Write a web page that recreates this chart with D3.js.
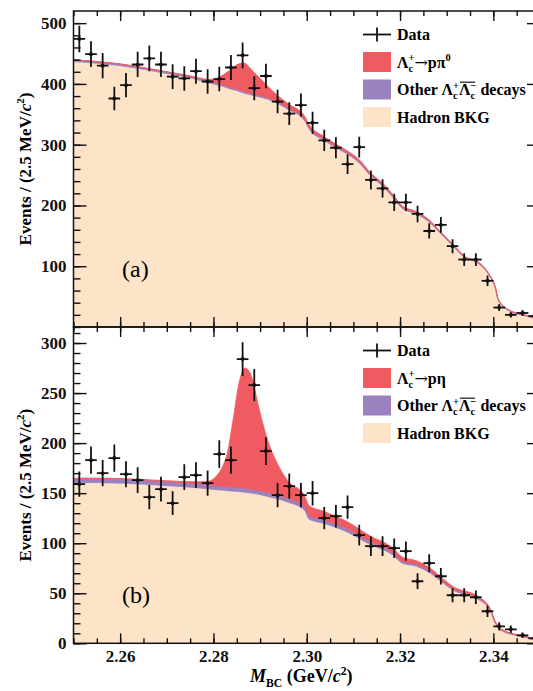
<!DOCTYPE html>
<html>
<head>
<meta charset="utf-8">
<script src="https://cdn.jsdelivr.net/npm/d3@7"></script>
<style>
  body { margin: 0; background: #fff; }
  svg text { font-family: "Liberation Serif", "Times New Roman", serif; white-space: pre; }
</style>
</head>
<body>
<div id="chart"></div>
<script>
// bin centres of M_BC (2.5 MeV bins)
var massBins = [2.25125, 2.25375, 2.25625, 2.25875, 2.26125, 2.26375, 2.26625, 2.26875, 2.27125, 2.27375,
                2.27625, 2.27875, 2.28125, 2.28375, 2.28625, 2.28875, 2.29125, 2.29375, 2.29625, 2.29875,
                2.30125, 2.30375, 2.30625, 2.30875, 2.31125, 2.31375, 2.31625, 2.31875, 2.32125, 2.32375,
                2.32625, 2.32875, 2.33125, 2.33375, 2.33625, 2.33875, 2.34125, 2.34375, 2.34625, 2.34875];

// (a) Lc -> p pi0 data
var countsA = [474, 449, 430, 376, 398, 432, 442, 432, 412, 409,
               421, 404, 408, 427, 447, 393, 413, 371, 351, 365,
               336, 307, 295, 268, 296, 242, 228, 205, 205, 186,
               158, 168, 133, 111, 111, 76, 32, 20, 23, 18];

// (b) Lc -> p eta data
var countsB = [159, 183, 170, 185, 169, 163, 146, 154, 140, 166,
               168, 160, 189, 183, 284, 258, 192, 148, 157, 148,
               150, 125, 127, 136, 108, 97, 97, 95, 92, 62,
               80, 67, 48, 48, 46, 32, 17, 14, 8, 5];

// fit components (a)
var curveXA = [2.250, 2.255, 2.260, 2.265, 2.270, 2.275, 2.2775, 2.279, 2.2805, 2.282,
               2.2835, 2.285, 2.2865, 2.2885, 2.2915, 2.2935, 2.296, 2.2995, 2.3005, 2.3035,
               2.3065, 2.309, 2.3115, 2.3135, 2.3165, 2.3185, 2.3205, 2.3235, 2.3265, 2.3285,
               2.3315, 2.334, 2.3365, 2.339, 2.3405, 2.341, 2.3435, 2.346, 2.350];
var bkgA = [437, 434, 430, 424, 417, 410, 405, 402, 399, 396,
            392, 389, 385, 381, 375, 369, 358, 340, 326, 308,
            294, 283, 268, 250, 230, 213, 195, 186, 171, 155,
            132, 113, 106, 86, 62, 45, 26, 20, 12];
var otherA = [2.5, 2.5, 2.5, 2.5, 2.5, 2.5, 2.5, 2.5, 2.5, 2.5,
              2.5, 2.5, 2.5, 2.5, 2.5, 2.5, 2.5, 2.5, 2.5, 2.5,
              2.5, 2.5, 2.5, 2.5, 2.5, 2.5, 2, 2, 2, 2,
              1.5, 1.5, 1.5, 1, 1, 1, 1, 1, 1];
var sigA = [0.5, 0.5, 0.5, 0.5, 0.6, 0.8, 1.5, 3, 7, 16,
            28, 40, 47, 37, 20, 11, 7, 5, 4.5, 4,
            3.5, 3, 3, 2.5, 2.5, 2, 2, 2, 1.5, 1.5,
            1.5, 1, 1, 1, 1, 1, 0.5, 0.5, 0.5];

// fit components (b)
var curveXB = [2.250, 2.255, 2.260, 2.265, 2.270, 2.275, 2.2785, 2.2805, 2.282, 2.283,
               2.2843, 2.2855, 2.2868, 2.2882, 2.2896, 2.2914, 2.2936, 2.296, 2.2995, 2.3005,
               2.3035, 2.3085, 2.3135, 2.3185, 2.3205, 2.3235, 2.3265, 2.3293, 2.3314, 2.3364,
               2.3393, 2.3404, 2.342, 2.3464, 2.350];
var bkgB = [160.5, 160.5, 160, 159, 157.5, 156, 154.5, 153.5, 153, 152.5,
            152, 151.5, 151, 150, 149, 147, 144.5, 141, 133, 124,
            120, 111.5, 99, 88, 80, 77, 70, 60, 53, 45,
            33, 20, 12, 6.5, 2.5];
var otherB = [4, 4, 4, 4, 4, 4, 4, 4, 4, 4,
              4, 4, 4, 4, 4, 4, 4, 4, 4, 3.5,
              3.5, 3.5, 3, 2.5, 2, 2, 2, 1.5, 1.5, 1,
              1, 1, 0.8, 0.5, 0.5];
var sigB = [0.5, 0.5, 0.6, 0.7, 0.9, 1.5, 3, 9, 20, 34,
            70, 105, 120, 112, 85, 55, 32, 17, 11, 10,
            8.5, 7, 5.5, 4.5, 4, 3.5, 3, 2.5, 2, 1.5,
            1, 1, 0.8, 0.5, 0.5];

// tick labels
var xTicks = [2.26, 2.28, 2.30, 2.32, 2.34];
var xTickLabels = ["2.26", "2.28", "2.30", "2.32", "2.34"];
var yTicksA = [100, 200, 300, 400, 500];
var yTicksB = [0, 50, 100, 150, 200, 250, 300];

(function() {
    var width = 533, height = 691;
    var plotLeft = 73.5, plotRight = 540;
    var colors = {bkg: "#fde4c8", other: "#9a82c0", sig: "#ef5b60"};

    var svg = d3.select("#chart").append("svg")
        .attr("width", width)
        .attr("height", height);

    var xScale = d3.scaleLinear().domain([2.25, 2.35]).range([plotLeft, plotRight]);
    var xMinor = d3.range(0, 21).map(function(i) { return 2.25 + i * 0.005; });

    //text with sub/superscripts
    function richText(g, x, y, segs, size) {
        var t = g.append("text")
            .attr("x", x).attr("y", y)
            .attr("font-size", size)
            .attr("font-weight", "bold");
        var off = 0, lastW = 0, idx = 0, over = [];
        segs.forEach(function(s) {
            var o = s.sub ? size * 0.25 : (s.sup ? -size * 0.4 : 0);
            var ts = t.append("tspan").text(s.t).attr("dy", o - off);
            if (s.sub || s.sup) ts.attr("font-size", size * 0.65);
            if (s.it) ts.attr("font-style", "italic");
            if (s.font) ts.attr("font-family", s.font).attr("font-weight", "normal");
            if (s.stack) ts.attr("dx", -lastW);
            lastW = ts.node().getComputedTextLength();
            if (s.over) over.push([idx, idx + s.t.length - 1]);
            idx += s.t.length;
            off = o;
        });
        if (over.length) {
            var n = t.node();
            var x1 = n.getStartPositionOfChar(over[0][0]).x;
            var x2 = n.getEndPositionOfChar(over[over.length - 1][1]).x;
            g.append("line")
                .attr("x1", x1 + 1).attr("x2", x2)
                .attr("y1", y - size * 0.8).attr("y2", y - size * 0.8)
                .attr("stroke", "#111").attr("stroke-width", 1.2);
        }
        return t;
    }

    function drawPanel(p) {
        var yScale = d3.scaleLinear().domain([0, p.yMax]).range([p.y1, p.y0]);
        var g = svg.append("g");

        g.append("clipPath").attr("id", "clip" + p.id)
          .append("rect")
            .attr("x", plotLeft).attr("y", p.y0)
            .attr("width", plotRight - plotLeft).attr("height", p.y1 - p.y0);

        var plot = g.append("g").attr("clip-path", "url(#clip" + p.id + ")");

        //stacked fit components
        var table = p.curveX.map(function(x, i) {
            return {x: x, bkg: p.bkg[i], other: p.other[i], sig: p.sig[i]};
        });
        var series = d3.stack().keys(["bkg", "other", "sig"])(table);
        var area = d3.area()
            .x(function(d) { return xScale(d.data.x); })
            .y0(function(d) { return yScale(d[0]); })
            .y1(function(d) { return yScale(d[1]); })
            .curve(d3.curveMonotoneX);

        plot.selectAll(".layer")
            .data(series)
          .enter().append("path")
            .attr("class", "layer")
            .attr("d", area)
            .attr("fill", function(d) { return colors[d.key]; })
            .attr("stroke", function(d) { return d.key === "bkg" ? "none" : colors[d.key]; })
            .attr("stroke-width", 0.8);

        //data with error bars
        var pts = plot.selectAll(".pt")
            .data(p.counts)
          .enter().append("g")
            .attr("class", "pt");
        pts.append("line")
            .attr("x1", function(d, i) { return xScale(massBins[i]); })
            .attr("x2", function(d, i) { return xScale(massBins[i]); })
            .attr("y1", function(d) { return yScale(d - Math.sqrt(d)); })
            .attr("y2", function(d) { return yScale(d + Math.sqrt(d)); });
        pts.append("line")
            .attr("x1", function(d, i) { return xScale(massBins[i] - 0.00125); })
            .attr("x2", function(d, i) { return xScale(massBins[i] + 0.00125); })
            .attr("y1", function(d) { return yScale(d); })
            .attr("y2", function(d) { return yScale(d); });
        pts.selectAll("line").attr("stroke", "#111").attr("stroke-width", 1.8);
        pts.append("circle")
            .attr("cx", function(d, i) { return xScale(massBins[i]); })
            .attr("cy", function(d) { return yScale(d); })
            .attr("r", 2)
            .attr("fill", "#111");

        //axes, ticks pointing inwards
        var yMinor = d3.range(0, p.yMax, p.yMinorStep);
        var axes = [
            [d3.axisLeft(yScale).tickValues(yMinor).tickSize(-7).tickFormat(""), plotLeft, 0],
            [d3.axisLeft(yScale).tickValues(p.yTicks).tickSize(-13).tickPadding(7), plotLeft, 0],
            [d3.axisRight(yScale).tickValues(yMinor).tickSize(-7).tickFormat(""), plotRight, 0],
            [d3.axisRight(yScale).tickValues(p.yTicks).tickSize(-13).tickFormat(""), plotRight, 0],
            [d3.axisTop(xScale).tickValues(xMinor).tickSize(-5).tickFormat(""), 0, p.y0],
            [d3.axisTop(xScale).tickValues(xTicks).tickSize(-10).tickFormat(""), 0, p.y0],
            [d3.axisBottom(xScale).tickValues(xMinor).tickSize(-5).tickFormat(""), 0, p.y1],
            [d3.axisBottom(xScale).tickValues(xTicks).tickSize(-10).tickPadding(7)
                .tickFormat(function(d, i) { return p.xLabels ? xTickLabels[i] : ""; }), 0, p.y1]
        ];
        axes.forEach(function(a) {
            var ax = g.append("g")
                .attr("transform", "translate(" + a[1] + "," + a[2] + ")")
                .call(a[0]);
            ax.select(".domain").remove();
            ax.selectAll("line").attr("stroke", "#111").attr("stroke-width", 1.4);
            ax.selectAll("text")
                .attr("font-family", "Liberation Serif, Times New Roman, serif")
                .attr("font-size", 17)
                .attr("font-weight", "bold")
                .attr("fill", "#111");
        });

        //frame
        g.append("rect")
            .attr("x", plotLeft).attr("y", p.y0)
            .attr("width", plotRight - plotLeft).attr("height", p.y1 - p.y0)
            .attr("fill", "none").attr("stroke", "#111").attr("stroke-width", 1.5);

        //y-axis title
        var yt = g.append("g")
            .attr("transform", "translate(31," + (p.y0 + p.y1) / 2 + ") rotate(-90)");
        richText(yt, 0, 0, [
            {t: "Events / (2.5 MeV/"}, {t: "c", it: true}, {t: "2", sup: true}, {t: ")"}
        ], 17).attr("text-anchor", "middle");

        //panel letter
        g.append("text")
            .attr("x", 122).attr("y", p.y0 + p.letterY)
            .attr("font-size", 24)
            .text(p.letter);

        //legend
        var lg = g.append("g").attr("transform", "translate(363," + p.y0 + ")");
        var rows = [23.5, 51, 78.5, 106];
        lg.append("line").attr("x1", 0).attr("x2", 28).attr("y1", rows[0]).attr("y2", rows[0]);
        lg.append("line").attr("x1", 14).attr("x2", 14).attr("y1", rows[0] - 7).attr("y2", rows[0] + 7);
        lg.selectAll("line").attr("stroke", "#111").attr("stroke-width", 1.8);
        ["sig", "other", "bkg"].forEach(function(k, i) {
            lg.append("rect")
                .attr("x", 0).attr("y", rows[i + 1] - 10)
                .attr("width", 28).attr("height", 20)
                .attr("fill", colors[k]);
        });
        var lam = [{t: "\u039b"}, {t: "c", sub: true}, {t: "+", sup: true, stack: true}];
        richText(lg, 34, rows[0] + 5.5, [{t: "Data"}], 16);
        richText(lg, 34, rows[1] + 5.5, lam.concat(p.decay), 16);
        richText(lg, 34, rows[2] + 5.5, [{t: "Other "}].concat(lam, [
            {t: "\u039b", over: true}, {t: "c", sub: true, over: true},
            {t: "\u2212", sup: true, stack: true}, {t: " decays"}
        ]), 16);
        richText(lg, 34, rows[3] + 5.5, [{t: "Hadron BKG"}], 16);
    }

    drawPanel({
        id: "a", y0: 11, y1: 327, yMax: 520,
        counts: countsA, curveX: curveXA, bkg: bkgA, other: otherA, sig: sigA,
        yTicks: yTicksA, yMinorStep: 20, xLabels: false,
        letter: "(a)", letterY: 266,
        decay: [{t: "\u2192", font: "DejaVu Serif"}, {t: "p\u03c0"}, {t: "0", sup: true}]
    });
    drawPanel({
        id: "b", y0: 327, y1: 643.3, yMax: 316,
        counts: countsB, curveX: curveXB, bkg: bkgB, other: otherB, sig: sigB,
        yTicks: yTicksB, yMinorStep: 10, xLabels: true,
        letter: "(b)", letterY: 276,
        decay: [{t: "\u2192", font: "DejaVu Serif"}, {t: "p\u03b7"}]
    });

    //x-axis title
    richText(svg, 250, 682, [
        {t: "M", it: true}, {t: "BC", sub: true}, {t: " (GeV/"}, {t: "c", it: true},
        {t: "2", sup: true}, {t: ")"}
    ], 18);
})();
</script>
</body>
</html>
